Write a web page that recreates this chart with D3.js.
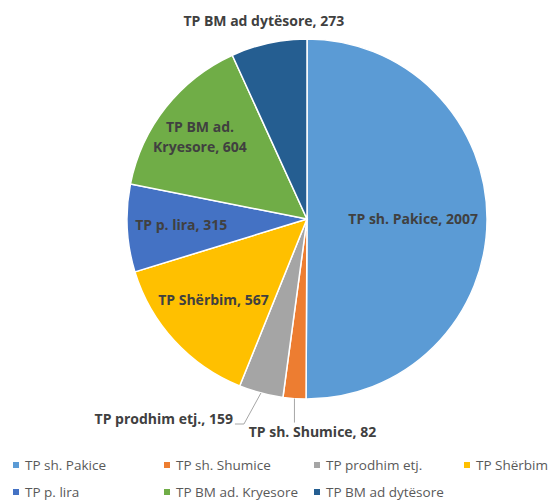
<!DOCTYPE html>
<html>
<head>
<meta charset="utf-8">
<script src="https://cdn.jsdelivr.net/npm/d3@7"></script>
<style>
  body { margin: 0; background: #fff; }
  text { font-family: 'Open Sans', sans-serif; }
</style>
</head>
<body>
<div id="chart"></div>
<script>
const categories = ['TP sh. Pakice', 'TP sh. Shumice', 'TP prodhim etj.', 'TP Shërbim', 'TP p. lira', 'TP BM ad. Kryesore', 'TP BM ad dytësore']
const values = [2007, 82, 159, 567, 315, 604, 273]
const colors = ['#5b9bd5', '#ed7d31', '#a5a5a5', '#ffc000', '#4472c4', '#70ad47', '#255e91']
// how the data label text is split on lines
const labelLines = [
  ['TP sh. Pakice, 2007'],
  ['TP sh. Shumice, 82'],
  ['TP prodhim etj., 159'],
  ['TP Shërbim, 567'],
  ['TP p. lira, 315'],
  ['TP BM ad.', 'Kryesore, 604'],
  ['TP BM ad dytësore, 273']
]

const width = 556
const height = 504
const cx = 307
const cy = 219
const radius = 180

const svg = d3.select('#chart')
  .append('svg')
  .attr('width', width)
  .attr('height', height)

const data = categories.map((c, i) => ({ name: c, value: values[i], color: colors[i], lines: labelLines[i] }))

const pie = d3.pie().sort(null).value(d => d.value)
const arc = d3.arc().innerRadius(0).outerRadius(radius)
const arcs = pie(data)

const g = svg.append('g').attr('transform', `translate(${cx},${cy})`)

g.selectAll('.slice')
  .data(arcs)
  .enter()
  .append('path')
  .attr('class', 'slice')
  .attr('d', arc)
  .attr('fill', d => d.data.color)
  .attr('stroke', '#fff')
  .attr('stroke-width', 1.5)

// label placement: radius factor, plus a nudge
const place = {
  'TP sh. Pakice': { r: 0.59, dx: 0, dy: 0 },
  'TP Shërbim': { r: 0.6, dx: -14, dy: 8 },
  'TP p. lira': { r: 0.7, dx: 0, dy: 0 },
  'TP BM ad. Kryesore': { r: 0.73, dx: -4, dy: 0 },
  'TP BM ad dytësore': { r: 1.13, dx: 0, dy: 1 }
}

const outerPoint = (d, f) => {
  const a = (d.startAngle + d.endAngle) / 2
  return [Math.sin(a) * radius * f, -Math.cos(a) * radius * f]
}

const labelStyle = sel => sel
  .attr('font-size', 14)
  .attr('font-weight', 'bold')
  .attr('fill', '#404040')

const inside = arcs.filter(d => place[d.data.name])
const lbl = g.selectAll('.label')
  .data(inside)
  .enter()
  .append('text')
  .attr('class', 'label')
  .attr('text-anchor', 'middle')
  .call(labelStyle)
  .attr('transform', d => {
    const p = place[d.data.name]
    const [x, y] = outerPoint(d, p.r)
    return `translate(${x + p.dx},${y + p.dy})`
  })

lbl.selectAll('tspan')
  .data(d => d.data.lines.map((t, i, all) => ({ t, i, n: all.length })))
  .enter()
  .append('tspan')
  .attr('x', 0)
  .attr('y', d => (d.i - (d.n - 1) / 2) * 20)
  .attr('dy', '0.35em')
  .text(d => d.t)

// small slices get labels outside with leader lines
const prod = arcs[2]
const pp = outerPoint(prod, 1)
g.append('polyline')
  .attr('points', [pp, [pp[0] - 17, pp[1] + 31], [pp[0] - 26, pp[1] + 31]].map(p => p.join(',')).join(' '))
  .attr('fill', 'none')
  .attr('stroke', '#a6a6a6')
  .attr('stroke-width', 1)
g.append('text')
  .attr('x', pp[0] - 28)
  .attr('y', pp[1] + 26)
  .attr('dy', '0.35em')
  .attr('text-anchor', 'end')
  .call(labelStyle)
  .text(prod.data.lines[0])

const shu = arcs[1]
const sp = outerPoint(shu, 1)
g.append('line')
  .attr('x1', sp[0]).attr('y1', sp[1])
  .attr('x2', sp[0]).attr('y2', sp[1] + 24)
  .attr('stroke', '#a6a6a6')
  .attr('stroke-width', 1)
g.append('text')
  .attr('x', sp[0] + 18)
  .attr('y', sp[1] + 34)
  .attr('dy', '0.35em')
  .attr('text-anchor', 'middle')
  .call(labelStyle)
  .text(shu.data.lines[0])

// legend, two rows
const colX = d3.scaleOrdinal().domain([0, 1, 2, 3]).range([13, 164, 314, 464])
const rowY = d3.scaleOrdinal().domain([0, 1]).range([465, 492])

const legend = svg.selectAll('.legend')
  .data(data)
  .enter()
  .append('g')
  .attr('class', 'legend')
  .attr('transform', (d, i) => `translate(${colX(i % 4)},${rowY(Math.floor(i / 4))})`)

legend.append('rect')
  .attr('x', 0)
  .attr('y', -3)
  .attr('width', 6)
  .attr('height', 6)
  .attr('fill', d => d.color)

legend.append('text')
  .attr('x', 12)
  .attr('dy', '0.35em')
  .attr('font-size', 13.5)
  .attr('fill', '#595959')
  .text(d => d.name)
</script>
</body>
</html>
